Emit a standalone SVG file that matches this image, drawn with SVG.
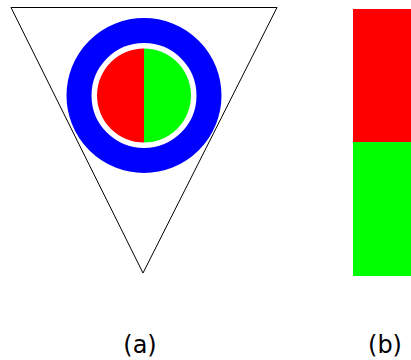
<svg xmlns="http://www.w3.org/2000/svg" width="411" height="360" viewBox="0 0 411 360">
<style>
.lbl{font-family:"DejaVu Sans",sans-serif;font-size:24px;fill:#000;text-anchor:middle}
</style>
<rect width="411" height="360" fill="#fff"/>
<g id="a">
<polygon points="11,7.5 277,7.5 143,273" fill="#fff" stroke="#000" stroke-width="1"/>
<circle cx="144" cy="95.5" r="65" fill="none" stroke="#00f" stroke-width="25"/>
<path d="M144,48.5 A47,47 0 0 0 144,142.5 Z" fill="#f00"/>
<path d="M144,48.5 A47,47 0 0 1 144,142.5 Z" fill="#0f0"/>
</g>
<g id="b">
<rect x="353" y="9" width="58" height="133" fill="#f00"/>
<rect x="353" y="142" width="58" height="134" fill="#0f0"/>
</g>
<text class="lbl" x="140" y="353">(a)</text>
<text class="lbl" x="385" y="353">(b)</text>
</svg>
